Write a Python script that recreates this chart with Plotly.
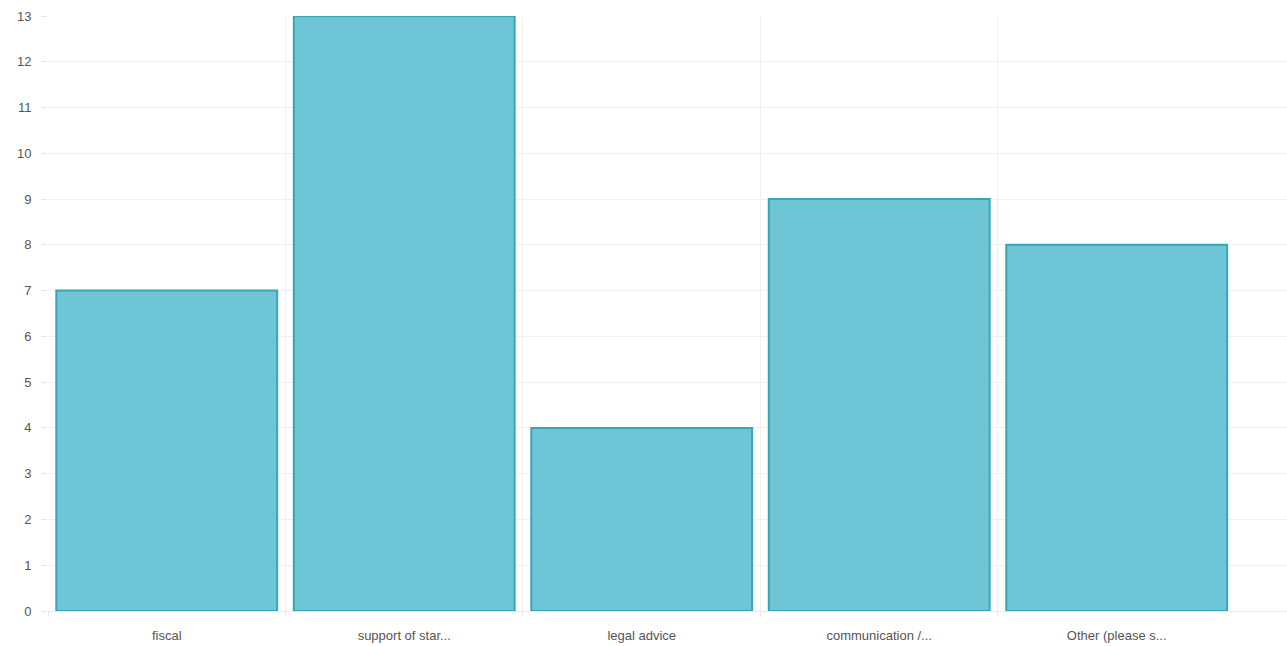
import plotly.graph_objects as go

categories = ["fiscal", "support of star...", "legal advice", "communication /...", "Other (please s..."]
counts = [7, 13, 4, 9, 8]
y_ticks = list(range(0, 14))

x_range = [-0.5, 4.717]
# category boundaries that carry a vertical gridline and tick (the last one has none)
boundaries = [i - 0.5 for i in range(len(categories))]

fig = go.Figure()
fig.add_trace(
    go.Bar(
        x=categories,
        y=counts,
        marker=dict(color="#6ec5d6", line=dict(color="#37a6b6", width=2)),
        hoverinfo="x+y",
    )
)
# helper trace so the overlay axis with the boundary grid is rendered
fig.add_trace(
    go.Scatter(x=[boundaries[0]], y=[0], xaxis="x2", mode="markers",
               marker=dict(opacity=0), hoverinfo="skip", showlegend=False)
)

fig.update_layout(
    width=1287,
    height=646,
    margin=dict(l=48, r=0, t=16, b=35),
    paper_bgcolor="white",
    plot_bgcolor="white",
    bargap=0.07,
    showlegend=False,
    font=dict(family="Liberation Sans, Arial, sans-serif", size=13, color="#555555"),
    xaxis=dict(
        type="category",
        range=x_range,
        showgrid=False,
        ticks="",
        showline=True,
        linecolor="#e8e8e8",
        tickfont=dict(size=13, color="#555555"),
        ticklabelstandoff=12,
        zeroline=False,
    ),
    xaxis2=dict(
        overlaying="x",
        anchor="y",
        side="bottom",
        range=x_range,
        tickvals=boundaries,
        showticklabels=False,
        showgrid=True,
        gridcolor="#f0f0f0",
        ticks="outside",
        ticklen=5,
        tickcolor="#e8e8e8",
        zeroline=False,
        layer="below traces",
    ),
    yaxis=dict(
        range=[0, 13],
        tickvals=y_ticks,
        showgrid=True,
        gridcolor="#f0f0f0",
        ticks="outside",
        ticklen=6,
        tickcolor="#e8e8e8",
        showline=False,
        zeroline=False,
        ticklabelstandoff=7,
        tickfont=dict(size=13, color="#555555"),
    ),
)

fig.write_html("out.html")
